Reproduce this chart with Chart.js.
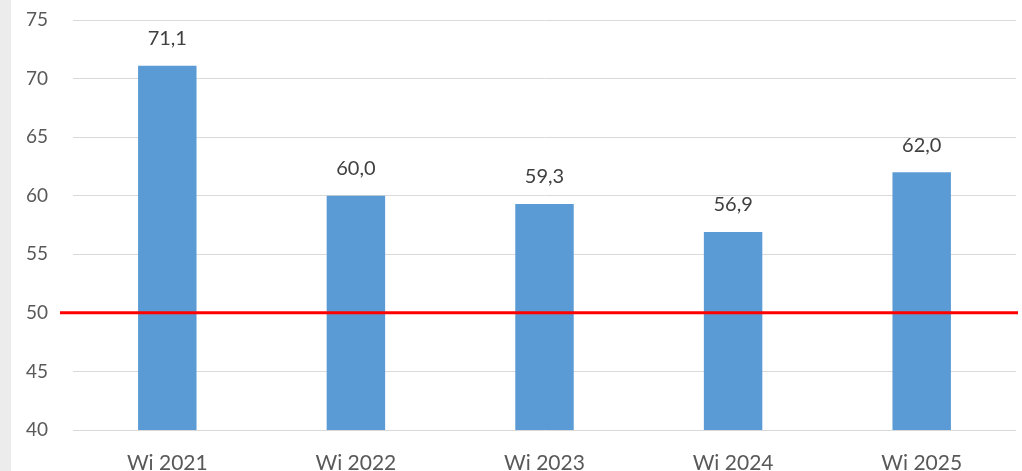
<!DOCTYPE html>
<html>
<head>
<meta charset="utf-8">
<script src="https://cdn.jsdelivr.net/npm/chart.js@4/dist/chart.umd.min.js"></script>
<style>
  html, body { margin: 0; padding: 0; background: #ececec; overflow: hidden; }
  #wrap { position: absolute; left: 11px; top: 0; width: 1011px; height: 471px; background: #ffffff; }
</style>
</head>
<body>
<div id="wrap"><canvas id="chart"></canvas></div>
<script>
// Werte aus dem Diagramm
const categories = ['Wi 2021', 'Wi 2022', 'Wi 2023', 'Wi 2024', 'Wi 2025'];
const values = [71.1, 60.0, 59.3, 56.9, 62.0];
const thresholdValue = 50;
const yMin = 40;
const yMax = 75;
const yStep = 5;

const fontFamily = 'Lato, "Open Sans", sans-serif';

// Beschriftung über den Balken (mit Komma)
const valueLabels = {
  id: 'valueLabels',
  afterDatasetsDraw(chart) {
    const ctx = chart.ctx;
    const meta = chart.getDatasetMeta(0);
    ctx.save();
    ctx.font = '20px ' + fontFamily;
    ctx.fillStyle = '#404040';
    ctx.textAlign = 'center';
    ctx.textBaseline = 'middle';
    meta.data.forEach((bar, i) => {
      const txt = values[i].toFixed(1).replace('.', ',');
      ctx.fillText(txt, bar.x, bar.y - 27);
    });
    ctx.restore();
  }
};

// rote Linie bei 50
const thresholdLine = {
  id: 'thresholdLine',
  afterDatasetsDraw(chart) {
    const ctx = chart.ctx;
    const y = chart.scales.y.getPixelForValue(thresholdValue);
    ctx.save();
    ctx.strokeStyle = '#ff0000';
    ctx.lineWidth = 3;
    ctx.beginPath();
    ctx.moveTo(chart.chartArea.left - 13, y);
    ctx.lineTo(chart.chartArea.right + 2, y);
    ctx.stroke();
    ctx.restore();
  }
};

const ctx = document.getElementById('chart').getContext('2d');
new Chart(ctx, {
  type: 'bar',
  data: {
    labels: categories,
    datasets: [{
      data: values,
      backgroundColor: '#5b9bd5',
      borderWidth: 0,
      categoryPercentage: 1,
      barPercentage: 0.31
    }]
  },
  options: {
    responsive: true,
    maintainAspectRatio: false,
    animation: false,
    devicePixelRatio: 1,
    layout: { padding: { top: 20, right: 6, left: 0, bottom: 0 } },
    plugins: {
      legend: { display: false },
      tooltip: { enabled: false }
    },
    scales: {
      x: {
        grid: { display: false, drawTicks: false },
        border: { display: false },
        afterFit: (scale) => { scale.height = 41; },
        ticks: {
          color: '#595959',
          padding: 21,
          font: { family: fontFamily, size: 21 }
        }
      },
      y: {
        min: yMin,
        max: yMax,
        afterFit: (scale) => {
          scale.width = 62;
          scale.paddingTop = 0;
          scale.paddingBottom = 0;
        },
        grid: { color: '#d9d9d9', lineWidth: 1, drawTicks: false },
        border: { display: false },
        ticks: {
          stepSize: yStep,
          color: '#595959',
          padding: 25,
          font: { family: fontFamily, size: 19 }
        }
      }
    }
  },
  plugins: [valueLabels, thresholdLine]
});
</script>
</body>
</html>
